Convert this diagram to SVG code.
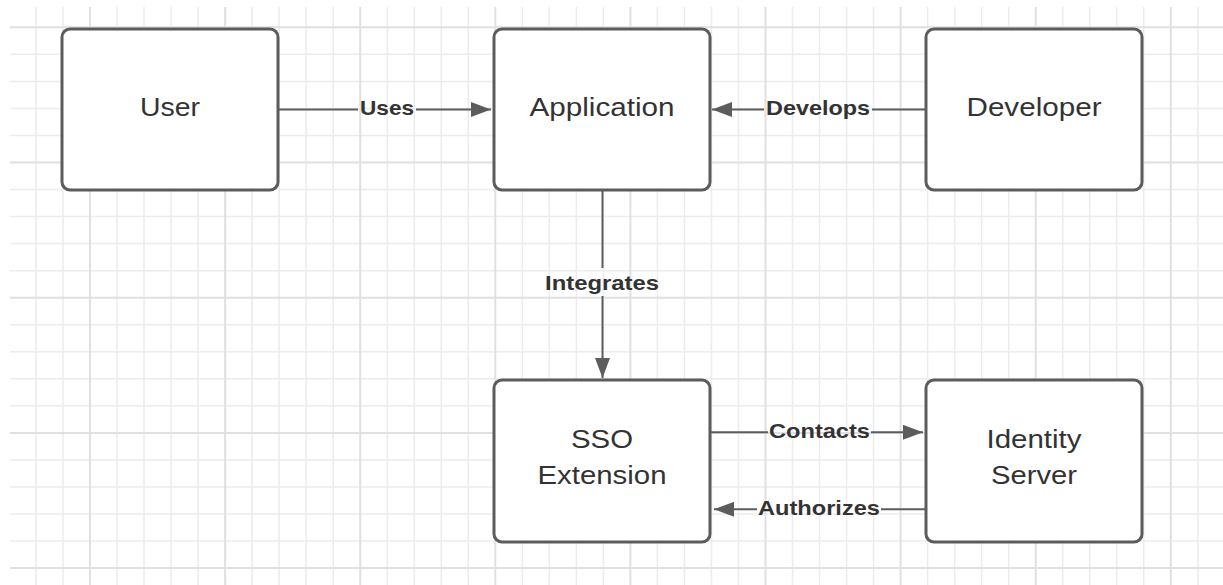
<svg xmlns="http://www.w3.org/2000/svg" width="1223" height="585" viewBox="0 0 1223 585">
  <style>
    .grid-minor { stroke: #ececec; stroke-width: 1.5; fill: none; }
    .grid-major { stroke: #e0e0e0; stroke-width: 2; fill: none; }
    .box { fill: #ffffff; stroke: #5c5c5c; stroke-width: 3; }
    .name { font-family: "Liberation Sans", Arial, sans-serif; font-size: 26px; fill: #333333; text-anchor: middle; dominant-baseline: central; }
    .edge { stroke: #5c5c5c; stroke-width: 2; fill: none; }
    .label { font-family: "Liberation Sans", Arial, sans-serif; font-size: 21px; font-weight: bold; fill: #333333; text-anchor: middle; dominant-baseline: central; }
  </style>
  <defs>
    <marker id="arrow" viewBox="0 0 20 15" refX="20" refY="7.5" markerWidth="20" markerHeight="15" markerUnits="userSpaceOnUse" orient="auto">
      <path d="M0,0 L20,7.5 L0,15 Z" fill="#5c5c5c"/>
    </marker>
  </defs>

  <rect width="1223" height="585" fill="#ffffff"/>

  <!-- background grid -->
  <g id="grid">
    <path class="grid-minor" d="M35.96,7V585 M62.98,7V585 M117.02,7V585 M144.04,7V585 M171.06,7V585 M198.08,7V585 M252.12,7V585 M279.14,7V585 M306.16,7V585 M333.18,7V585 M387.22,7V585 M414.24,7V585 M441.26,7V585 M468.28,7V585 M522.32,7V585 M549.34,7V585 M576.36,7V585 M603.38,7V585 M657.42,7V585 M684.44,7V585 M711.46,7V585 M738.48,7V585 M792.52,7V585 M819.54,7V585 M846.56,7V585 M873.58,7V585 M927.62,7V585 M954.64,7V585 M981.66,7V585 M1008.68,7V585 M1062.72,7V585 M1089.74,7V585 M1116.76,7V585 M1143.78,7V585 M1197.82,7V585"/>
    <path class="grid-minor" d="M10,54.34H1223 M10,81.38H1223 M10,108.42H1223 M10,135.46H1223 M10,189.54H1223 M10,216.58H1223 M10,243.62H1223 M10,270.66H1223 M10,324.74H1223 M10,351.78H1223 M10,378.82H1223 M10,405.86H1223 M10,459.94H1223 M10,486.98H1223 M10,514.02H1223 M10,541.06H1223"/>
    <path class="grid-major" d="M90,7V585 M225.1,7V585 M360.2,7V585 M495.3,7V585 M630.4,7V585 M765.5,7V585 M900.6,7V585 M1035.7,7V585 M1170.8,7V585"/>
    <path class="grid-major" d="M10,27.3H1223 M10,162.5H1223 M10,297.7H1223 M10,432.9H1223 M10,568.1H1223"/>
  </g>

  <!-- connectors -->
  <g id="connectors">
    <g id="edge-uses">
      <path class="edge" d="M279,109.5H358"/>
      <path class="edge" d="M416,109.5H491" marker-end="url(#arrow)"/>
      <text class="label" x="387" y="107.5" textLength="54" lengthAdjust="spacingAndGlyphs">Uses</text>
    </g>
    <g id="edge-develops">
      <path class="edge" d="M926,109.5H872"/>
      <path class="edge" d="M764,109.5H712" marker-end="url(#arrow)"/>
      <text class="label" x="818" y="107.5" textLength="104" lengthAdjust="spacingAndGlyphs">Develops</text>
    </g>
    <g id="edge-integrates">
      <path class="edge" d="M602.5,191V268"/>
      <path class="edge" d="M602.5,296V378" marker-end="url(#arrow)"/>
      <text class="label" x="602" y="282" textLength="114" lengthAdjust="spacingAndGlyphs">Integrates</text>
    </g>
    <g id="edge-contacts">
      <path class="edge" d="M711,432.3H768"/>
      <path class="edge" d="M871,432.3H923" marker-end="url(#arrow)"/>
      <text class="label" x="819.5" y="430.5" textLength="101" lengthAdjust="spacingAndGlyphs">Contacts</text>
    </g>
    <g id="edge-authorizes">
      <path class="edge" d="M926,509.3H881"/>
      <path class="edge" d="M757,509.3H714" marker-end="url(#arrow)"/>
      <text class="label" x="819" y="507.5" textLength="122" lengthAdjust="spacingAndGlyphs">Authorizes</text>
    </g>
  </g>

  <!-- nodes -->
  <g id="node-user">
    <rect class="box" x="62" y="29" width="216" height="161" rx="8"/>
    <text class="name" x="170" y="107" textLength="60" lengthAdjust="spacingAndGlyphs">User</text>
  </g>
  <g id="node-application">
    <rect class="box" x="494" y="29" width="216" height="161" rx="8"/>
    <text class="name" x="602" y="107" textLength="145" lengthAdjust="spacingAndGlyphs">Application</text>
  </g>
  <g id="node-developer">
    <rect class="box" x="926" y="29" width="216" height="161" rx="8"/>
    <text class="name" x="1034" y="107" textLength="135" lengthAdjust="spacingAndGlyphs">Developer</text>
  </g>
  <g id="node-sso-extension">
    <rect class="box" x="494" y="380" width="216" height="162" rx="8"/>
    <text class="name" x="602" y="439" textLength="62" lengthAdjust="spacingAndGlyphs">SSO</text>
    <text class="name" x="602" y="475" textLength="129" lengthAdjust="spacingAndGlyphs">Extension</text>
  </g>
  <g id="node-identity-server">
    <rect class="box" x="926" y="380" width="216" height="162" rx="8"/>
    <text class="name" x="1034" y="439" textLength="95" lengthAdjust="spacingAndGlyphs">Identity</text>
    <text class="name" x="1034" y="475" textLength="86" lengthAdjust="spacingAndGlyphs">Server</text>
  </g>
</svg>
